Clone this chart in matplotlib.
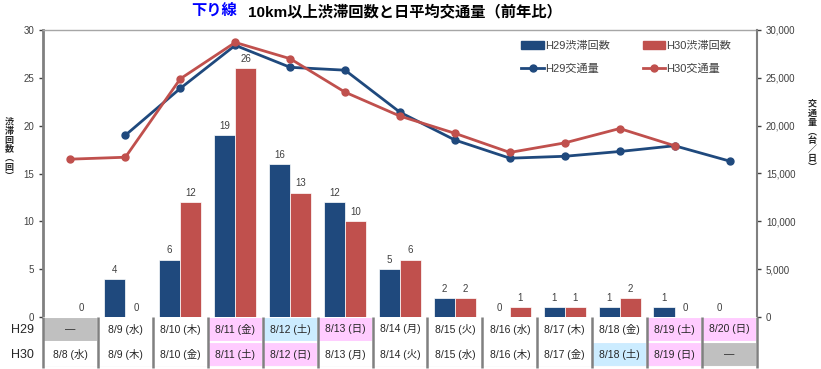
import matplotlib
matplotlib.use("Agg")
import matplotlib.pyplot as plt
from matplotlib.patches import Rectangle
import numpy as np

plt.rcParams['font.family'] = ['Liberation Sans', 'Noto Sans CJK JP', 'DejaVu Sans']

h29_dates = ["—", "8/9 (水)", "8/10 (木)", "8/11 (金)", "8/12 (土)", "8/13 (日)", "8/14 (月)",
             "8/15 (火)", "8/16 (水)", "8/17 (木)", "8/18 (金)", "8/19 (土)", "8/20 (日)"]
h30_dates = ["8/8 (水)", "8/9 (木)", "8/10 (金)", "8/11 (土)", "8/12 (日)", "8/13 (月)", "8/14 (火)",
             "8/15 (水)", "8/16 (木)", "8/17 (金)", "8/18 (土)", "8/19 (日)", "—"]
h29_cell_colors = ["#C0C0C0", "w", "w", "#FFCCFF", "#CCECFF", "#FFCCFF", "w",
                   "w", "w", "w", "w", "#FFCCFF", "#FFCCFF"]
h30_cell_colors = ["w", "w", "w", "#FFCCFF", "#FFCCFF", "w", "w",
                   "w", "w", "w", "#CCECFF", "#FFCCFF", "#C0C0C0"]

h29_jam = [None, 4, 6, 19, 16, 12, 5, 2, 0, 1, 1, 1, 0]
h30_jam = [0, 0, 12, 26, 13, 10, 6, 2, 1, 1, 2, 0, None]
h29_traffic = [None, 19000, 23900, 28400, 26100, 25800, 21400, 18500, 16600, 16800, 17300, 17900, 16300]
h30_traffic = [16500, 16700, 24900, 28700, 27000, 23500, 21000, 19200, 17200, 18200, 19700, 17900, None]

C29 = "#1F497D"
C30 = "#C0504D"
W, H = 821, 369
fig = plt.figure(figsize=(W / 100, H / 100), dpi=100)

L, R, T, B = 43, 757, 30, 317
ax = fig.add_axes([L / W, 1 - B / H, (R - L) / W, (B - T) / H])
n = len(h29_dates)
x = np.arange(n)
bw = 0.385

for i in range(n):
    if h29_jam[i] is not None:
        ax.bar(x[i] - bw / 2, h29_jam[i], bw, color=C29, edgecolor='white', linewidth=0.5, zorder=2)
        ax.annotate(str(h29_jam[i]), (x[i] - bw / 2, h29_jam[i]), xytext=(0, 3),
                    textcoords='offset points', ha='center', va='bottom', fontsize=7, color='#404040')
    if h30_jam[i] is not None:
        ax.bar(x[i] + bw / 2, h30_jam[i], bw, color=C30, edgecolor='white', linewidth=0.5, zorder=2)
        ax.annotate(str(h30_jam[i]), (x[i] + bw / 2, h30_jam[i]), xytext=(0, 3),
                    textcoords='offset points', ha='center', va='bottom', fontsize=7, color='#404040')

ax.set_xlim(-0.5, n - 0.5)
ax.set_ylim(0, 30)
ax.set_yticks(range(0, 31, 5))
ax.set_xticks([])
ax.tick_params(axis='y', labelsize=7, colors='#404040', length=3, width=1)
ax.spines['left'].set_color('#808080')
ax.spines['left'].set_linewidth(2)
ax.spines['top'].set_color('#A6A6A6')
ax.spines['top'].set_linewidth(1)
ax.spines['right'].set_visible(False)
ax.spines['bottom'].set_visible(False)

ax2 = ax.twinx()
x29 = [x[i] for i in range(n) if h29_traffic[i] is not None]
y29 = [v for v in h29_traffic if v is not None]
x30 = [x[i] for i in range(n) if h30_traffic[i] is not None]
y30 = [v for v in h30_traffic if v is not None]
l29, = ax2.plot(x29, y29, color=C29, lw=2, marker='o', ms=5, zorder=3)
l30, = ax2.plot(x30, y30, color=C30, lw=2, marker='o', ms=5, zorder=3)
ax2.set_ylim(0, 30000)
ax2.set_yticks(range(0, 30001, 5000))
ax2.set_yticklabels([f"{v:,}" for v in range(0, 30001, 5000)])
ax2.tick_params(axis='y', labelsize=7, colors='#404040', length=3, width=1)
ax2.spines['right'].set_color('#808080')
ax2.spines['right'].set_linewidth(1.5)
for s in ['left', 'top', 'bottom']:
    ax2.spines[s].set_visible(False)

b29 = Rectangle((0, 0), 1, 1, color=C29)
b30 = Rectangle((0, 0), 1, 1, color=C30)
leg = ax2.legend([b29, l29, b30, l30], ["H29渋滞回数", "H29交通量", "H30渋滞回数", "H30交通量"],
                 ncol=2, loc='upper left', bbox_to_anchor=((517 - L) / (R - L), 1 - (36 - T) / (B - T)),
                 frameon=False, fontsize=8, handlelength=2.0, handletextpad=0.1,
                 columnspacing=3.0, labelspacing=1.2, borderaxespad=0)
for t in leg.get_texts():
    t.set_color('#404040')

# table
tb = fig.add_axes([L / W, 1 - 367 / H, (R - L) / W, 50 / H])
tb.set_xlim(-0.5, n - 0.5)
tb.set_ylim(0, 2)
tb.axis('off')
for i in range(n):
    for row, (labels, cols) in enumerate([(h30_dates, h30_cell_colors), (h29_dates, h29_cell_colors)]):
        tb.add_patch(Rectangle((i - 0.5, row), 1, 1, facecolor=cols[i], edgecolor='white', lw=1.5))
        tb.text(i, row + 0.5, labels[i], ha='center', va='center', fontsize=7.5, color='#262626')
for i in range(n + 1):
    tb.plot([i - 0.5, i - 0.5], [-0.05, 2], color='#808080', lw=1.8, clip_on=False, solid_capstyle='butt')
tb.plot([-0.5, n - 0.5], [0, 0], color='#BFBFBF', lw=0.8)

fig.text(22 / W, 1 - 330 / H, "H29", ha='center', va='center', fontsize=9, color='#262626')
fig.text(22 / W, 1 - 355 / H, "H30", ha='center', va='center', fontsize=9, color='#262626')

fig.text(237 / W, 1 - 12 / H, "下り線", ha='right', va='center', fontsize=11, color='#0000FF', fontweight='bold')
fig.text(248 / W, 1 - 12 / H, "10km以上渋滞回数と日平均交通量（前年比）", ha='left', va='center',
         fontsize=11, color='black', fontweight='bold')

fig.text(9 / W, 1 - 149 / H, "\n".join("渋滞回数︵回︶"), ha='center', va='center', fontsize=6.5,
         color='#262626', linespacing=1.0, family=['Noto Sans CJK JP'], fontweight='bold')
fig.text(812 / W, 1 - 136 / H, "\n".join("交通量︵台／日︶"), ha='center', va='center', fontsize=6.5,
         color='#262626', linespacing=1.0, family=['Noto Sans CJK JP'], fontweight='bold')

fig.savefig("out.png", dpi=100)
